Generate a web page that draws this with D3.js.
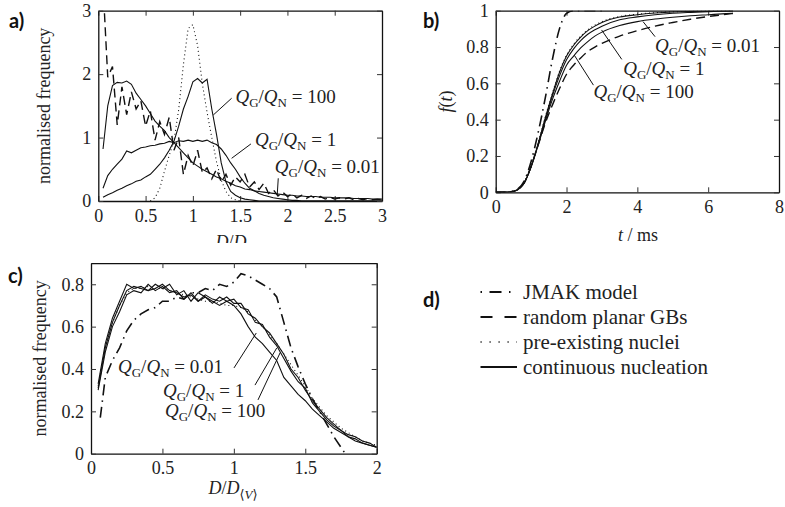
<!DOCTYPE html>
<html>
<head>
<meta charset="utf-8">
<script src="https://cdn.jsdelivr.net/npm/d3@7"></script>
<style>
  body { margin: 0; background: #fff; }
  svg { display: block; }
  text { font-family: "Liberation Serif", "DejaVu Serif", serif; }
  .tick text { font-family: "Liberation Serif", "DejaVu Serif", serif; font-size: 18px; fill: #222; }
  .lbl { font-size: 18px; fill: #222; white-space: pre; }
  .ann { font-size: 19px; fill: #222; white-space: pre; }
  .leg { font-size: 21px; fill: #222; }
  .panel { font-family: Lato, "Open Sans", sans-serif; font-size: 20px; font-weight: bold; fill: #111; }
</style>
</head>
<body>
<div id="chart"></div>
<script>
// ---- panel a: size distributions, D/D<V> grid
const aX = [0.05, 0.1, 0.15, 0.2, 0.25, 0.3, 0.35, 0.4, 0.45, 0.5, 0.55, 0.6, 0.65, 0.7, 0.75, 0.8, 0.85, 0.9, 0.95, 1.0,
  1.05, 1.1, 1.15, 1.2, 1.25, 1.3, 1.35, 1.4, 1.45, 1.5, 1.55, 1.6, 1.65, 1.7, 1.75, 1.8, 1.85, 1.9, 1.95, 2.0,
  2.05, 2.1, 2.15, 2.2, 2.25, 2.3, 2.35, 2.4, 2.45, 2.5, 2.55, 2.6, 2.65, 2.7, 2.75, 2.8, 2.85, 2.9, 2.95, 3.0]
const aRandom = [3.4, 1.95, 2.12, 1.2, 1.8, 1.36, 1.72, 1.45, 1.58, 1.18, 1.42, 0.96, 1.25, 1.05, 1.32, 0.8, 1.0, 0.42, 0.72, 0.55,
  0.8, 0.45, 0.52, 0.35, 0.5, 0.3, 0.42, 0.25, 0.38, 0.3, 0.42, 0.22, 0.3, 0.18, 0.28, 0.12, 0.18, 0.08, 0.14, 0.07,
  0.11, 0.05, 0.09, 0.04, 0.08, 0.04, 0.07, 0.03, 0.06, 0.03, 0.05, 0.03, 0.05, 0.02, 0.04, 0.02, 0.04, 0.02, 0.03, 0.02]
const aPre = [null, null, null, null, null, null, null, null, null, null, 0.0, 0.05, 0.2, 0.47, 0.72, 0.95, 1.44, 2.15, 2.72, 2.78,
  2.45, 1.85, 1.4, 1.0, 0.62, 0.33, 0.15, 0.05, 0.02, 0.0, null, null, null, null, null, null, null, null, null, null,
  null, null, null, null, null, null, null, null, null, null, null, null, null, null, null, null, null, null, null, null]
const aCont001 = [0.82, 1.5, 1.82, 1.87, 1.86, 1.89, 1.84, 1.7, 1.6, 1.5, 1.38, 1.26, 1.18, 1.11, 1.0, 0.92, 0.84, 0.76, 0.68, 0.6,
  0.55, 0.5, 0.46, 0.42, 0.38, 0.35, 0.31, 0.28, 0.24, 0.22, 0.19, 0.18, 0.16, 0.15, 0.14, 0.13, 0.12, 0.11, 0.1, 0.09,
  0.09, 0.08, 0.08, 0.07, 0.07, 0.07, 0.06, 0.06, 0.06, 0.05, 0.05, 0.05, 0.05, 0.04, 0.04, 0.04, 0.04, 0.03, 0.03, 0.03]
const aCont1 = [0.2, 0.4, 0.5, 0.58, 0.66, 0.79, 0.76, 0.8, 0.84, 0.85, 0.87, 0.88, 0.9, 0.91, 0.94, 0.92, 0.95, 0.94, 0.96, 0.94,
  0.96, 0.94, 0.96, 0.92, 0.89, 0.82, 0.72, 0.6, 0.5, 0.38, 0.28, 0.2, 0.16, 0.12, 0.09, 0.07, 0.05, 0.04, 0.03, 0.02,
  0.01, 0.01, 0.0, 0.0, 0.0, 0.0, 0.0, 0.0, 0.0, 0.0, 0.0, 0.0, 0.0, 0.0, 0.0, 0.0, 0.0, 0.0, 0.0, 0.0]
const aCont100 = [0.06, 0.1, 0.13, 0.17, 0.2, 0.24, 0.27, 0.31, 0.33, 0.38, 0.42, 0.5, 0.58, 0.68, 0.8, 0.94, 1.18, 1.45, 1.65, 1.88,
  1.93, 1.86, 1.92, 1.45, 1.05, 0.6, 0.3, 0.15, 0.09, 0.05, 0.03, 0.02, 0.01, 0.0, 0.0, 0.0, 0.0, 0.0, 0.0, 0.0,
  0.0, 0.0, 0.0, 0.0, 0.0, 0.0, 0.0, 0.0, 0.0, 0.0, 0.0, 0.0, 0.0, 0.0, 0.0, 0.0, 0.0, 0.0, 0.0, 0.0]

// ---- panel b: transformed fraction f(t), t in ms
const bT = [0, 0.2, 0.4, 0.6, 0.8, 1.0, 1.2, 1.4, 1.6, 1.8, 2.0, 2.2, 2.4, 2.6, 2.8, 3.0, 3.5, 4.0, 4.5, 5.0, 5.5, 6.0, 6.5, 6.7]
const bJmak = [0, 0, 0.003, 0.015, 0.06, 0.17, 0.33, 0.52, 0.73, 0.9, 0.985, 1.0, 1.0, 1.0, 1.0, 1.0, null, null, null, null, null, null, null, null]
const bRandom = [0, 0, 0.002, 0.012, 0.05, 0.145, 0.26, 0.38, 0.48, 0.57, 0.65, 0.7, 0.74, 0.775, 0.8, 0.82, 0.86, 0.89, 0.915, 0.935, 0.953, 0.968, 0.98, 0.985]
const bPre = [0, 0, 0.002, 0.013, 0.055, 0.145, 0.275, 0.415, 0.545, 0.665, 0.755, 0.815, 0.86, 0.895, 0.92, 0.94, 0.968, 0.981, 0.989, 0.994, 0.997, 0.999, 1.0, 1.0]
const bCont100 = [0, 0, 0.002, 0.012, 0.05, 0.14, 0.27, 0.41, 0.54, 0.66, 0.75, 0.81, 0.855, 0.89, 0.915, 0.935, 0.965, 0.978, 0.987, 0.993, 0.996, 0.998, 0.999, 1.0]
const bCont1 = [0, 0, 0.002, 0.012, 0.05, 0.14, 0.265, 0.4, 0.53, 0.64, 0.73, 0.79, 0.835, 0.87, 0.895, 0.915, 0.95, 0.966, 0.978, 0.986, 0.991, 0.995, 0.998, 0.999]
const bCont001 = [0, 0, 0.002, 0.012, 0.05, 0.14, 0.26, 0.39, 0.51, 0.61, 0.7, 0.75, 0.795, 0.83, 0.86, 0.882, 0.918, 0.94, 0.954, 0.964, 0.972, 0.978, 0.984, 0.986]

// ---- panel c: volume-weighted size distributions
const cX = [0.05, 0.1, 0.15, 0.2, 0.25, 0.3, 0.35, 0.4, 0.45, 0.5, 0.55, 0.6, 0.65, 0.7, 0.75, 0.8, 0.85, 0.9, 0.95, 1.0,
  1.05, 1.1, 1.15, 1.2, 1.25, 1.3, 1.35, 1.4, 1.45, 1.5, 1.55, 1.6, 1.65, 1.7, 1.75, 1.8, 1.85, 1.9, 1.95, 2.0]
const cPre = [0.32, 0.5, 0.62, 0.7, 0.76, 0.78, 0.78, 0.79, 0.78, 0.78, 0.77, 0.76, 0.75, 0.74, 0.73, 0.72, 0.72, 0.71, 0.7, 0.7,
  0.69, 0.67, 0.63, 0.6, 0.56, 0.52, 0.47, 0.42, 0.37, 0.32, 0.26, 0.22, 0.18, 0.15, 0.12, 0.1, 0.08, 0.06, 0.05, 0.04]
const cCont100 = [0.3, 0.48, 0.6, 0.67, 0.75, 0.77, 0.76, 0.8, 0.77, 0.79, 0.76, 0.77, 0.73, 0.76, 0.72, 0.75, 0.73, 0.72, 0.74, 0.71,
  0.71, 0.66, 0.64, 0.6, 0.57, 0.52, 0.47, 0.4, 0.36, 0.3, 0.25, 0.21, 0.17, 0.14, 0.11, 0.09, 0.08, 0.06, 0.05, 0.03]
const cCont1 = [0.31, 0.5, 0.62, 0.7, 0.77, 0.79, 0.78, 0.77, 0.8, 0.78, 0.8, 0.75, 0.77, 0.72, 0.76, 0.74, 0.71, 0.74, 0.72, 0.73,
  0.69, 0.68, 0.62, 0.61, 0.55, 0.51, 0.45, 0.39, 0.34, 0.31, 0.24, 0.2, 0.16, 0.13, 0.11, 0.08, 0.07, 0.05, 0.04, 0.03]
const cCont001 = [0.33, 0.52, 0.64, 0.72, 0.8, 0.78, 0.79, 0.77, 0.78, 0.8, 0.77, 0.76, 0.74, 0.75, 0.72, 0.74, 0.72, 0.7, 0.72, 0.7,
  0.66, 0.6, 0.55, 0.52, 0.48, 0.44, 0.36, 0.32, 0.28, 0.25, 0.21, 0.18, 0.15, 0.12, 0.1, 0.08, 0.06, 0.05, 0.04, 0.03]
const cJmakX = [0.065, 0.1, 0.15, 0.2, 0.25, 0.3, 0.35, 0.4, 0.45, 0.5, 0.55, 0.6, 0.65, 0.7, 0.75, 0.8, 0.85, 0.9, 0.95, 1.0,
  1.05, 1.1, 1.15, 1.2, 1.25, 1.3, 1.35, 1.4, 1.45, 1.5, 1.55, 1.6, 1.65, 1.7, 1.75, 1.78]
const cJmak = [0.17, 0.36, 0.44, 0.5, 0.58, 0.63, 0.66, 0.68, 0.69, 0.72, 0.72, 0.74, 0.73, 0.76, 0.76, 0.78, 0.77, 0.8, 0.79, 0.81,
  0.85, 0.84, 0.82, 0.8, 0.78, 0.74, 0.62, 0.5, 0.41, 0.33, 0.26, 0.2, 0.14, 0.08, 0.03, 0.0]

// tick values
const aXTicks = [0, 0.5, 1, 1.5, 2, 2.5, 3]
const aYTicks = [0, 1, 2, 3]
const bXTicks = [0, 2, 4, 6, 8]
const bYTicks = [0, 0.2, 0.4, 0.6, 0.8, 1]
const cXTicks = [0, 0.5, 1, 1.5, 2]
const cYTicks = [0, 0.2, 0.4, 0.6, 0.8]

const ratios = ["100", "1", "0.01"]
const legendNames = ["JMAK model", "random planar GBs", "pre-existing nuclei", "continuous nucleation"]

const serif = '"Liberation Serif", "DejaVu Serif", serif'
const styles = {
  jmak: { dash: "11,5,1.5,5", width: 1.6 },
  random: { dash: "9,5", width: 1.4 },
  pre: { dash: "1,3", width: 1.1 },
  cont: { dash: null, width: 1.1 }
}

const svg = d3.select("#chart").append("svg").attr("width", 785).attr("height", 507)
const defs = svg.append("defs")

function frame(id, x, y, xTicks, yTicks) {
  const [x0, x1] = x.range()
  const [y0, y1] = y.range()
  defs.append("clipPath").attr("id", id)
    .append("rect").attr("x", x0).attr("y", y1).attr("width", x1 - x0).attr("height", y0 - y1)
  const fmt = d3.format("~g")
  const g = svg.append("g")
  g.append("g").attr("transform", `translate(0,${y0})`)
    .call(d3.axisBottom(x).tickValues(xTicks).tickFormat(fmt).tickSizeInner(-5).tickSizeOuter(0).tickPadding(8))
  g.append("g").attr("transform", `translate(0,${y1})`)
    .call(d3.axisTop(x).tickValues(xTicks).tickFormat("").tickSizeInner(-5).tickSizeOuter(0))
  g.append("g").attr("transform", `translate(${x0},0)`)
    .call(d3.axisLeft(y).tickValues(yTicks).tickFormat(fmt).tickSizeInner(-5).tickSizeOuter(0).tickPadding(7))
  g.append("g").attr("transform", `translate(${x1},0)`)
    .call(d3.axisRight(y).tickValues(yTicks).tickFormat("").tickSizeInner(-5).tickSizeOuter(0))
  g.selectAll(".domain").attr("stroke", "#111").attr("stroke-width", 1.3)
  g.selectAll(".tick line").attr("stroke", "#333")
  g.selectAll("g").attr("font-family", serif).attr("font-size", 18)
  g.selectAll(".tick text").attr("fill", "#222").style("font-family", serif)
  return g
}

function curve(id, xs, ys, x, y, st, smooth) {
  const pts = xs.map((d, i) => [d, ys[i]])
  const line = d3.line()
    .defined(d => d[1] != null)
    .x(d => x(d[0])).y(d => y(d[1]))
  if (smooth) line.curve(d3.curveMonotoneX)
  svg.append("path")
    .attr("clip-path", `url(#${id})`)
    .attr("d", line(pts))
    .attr("fill", "none")
    .attr("stroke", "#111")
    .attr("stroke-width", st.width)
    .attr("stroke-dasharray", st.dash)
}

function ratioLabel(px, py, value) {
  const t = svg.append("text").attr("class", "ann").style("font-family", serif).attr("x", px).attr("y", py)
  t.append("tspan").attr("font-style", "italic").text("Q")
  t.append("tspan").attr("dy", 4).attr("font-size", 13).text("G")
  t.append("tspan").attr("dy", -4).text("/")
  t.append("tspan").attr("font-style", "italic").text("Q")
  t.append("tspan").attr("dy", 4).attr("font-size", 13).text("N")
  t.append("tspan").attr("dy", -4).text(" = " + value)
}

function pointer(x, y, from, to) {
  svg.append("line")
    .attr("x1", x(from[0])).attr("y1", y(from[1]))
    .attr("x2", x(to[0])).attr("y2", y(to[1]))
    .attr("stroke", "#111").attr("stroke-width", 1)
}

function dLabel(g, px, py) {
  const t = g.append("text").attr("class", "lbl").style("font-family", serif)
    .attr("x", px).attr("y", py).attr("text-anchor", "middle")
  t.append("tspan").attr("font-style", "italic").text("D")
  t.append("tspan").text("/")
  t.append("tspan").attr("font-style", "italic").text("D")
  t.append("tspan").attr("dy", 5).attr("font-size", 13).text("⟨")
  t.append("tspan").attr("font-size", 13).attr("font-style", "italic").text("V")
  t.append("tspan").attr("font-size", 13).text("⟩")
}

function yLabel(px, py) {
  return svg.append("text").attr("class", "lbl").style("font-family", serif)
    .attr("text-anchor", "middle")
    .attr("transform", `translate(${px},${py}) rotate(-90)`)
}

// ================= panel a
const ax = d3.scaleLinear().domain([0, 3]).range([98.3, 382])
const ay = d3.scaleLinear().domain([0, 3]).range([201, 10.7])
frame("clipA", ax, ay, aXTicks, aYTicks)
curve("clipA", aX, aPre, ax, ay, styles.pre)
curve("clipA", aX, aRandom, ax, ay, styles.random)
curve("clipA", aX, aCont001, ax, ay, styles.cont)
curve("clipA", aX, aCont1, ax, ay, styles.cont)
curve("clipA", aX, aCont100, ax, ay, styles.cont)

const aAnn = [
  { text: [1.45, 1.55], from: [1.41, 1.62], to: [1.216, 1.356] },
  { text: [1.656, 0.867], from: [1.614, 0.9], to: [1.41, 0.673] },
  { text: [1.867, 0.44], from: [1.903, 0.358], to: [1.892, 0.095] }
]
aAnn.forEach((a, i) => {
  ratioLabel(ax(a.text[0]), ay(a.text[1]), ratios[i])
  pointer(ax, ay, a.from, a.to)
})

yLabel(50, (ay.range()[0] + ay.range()[1]) / 2).text("normalised frequency")
defs.append("clipPath").attr("id", "clipTop").append("rect").attr("width", 785).attr("height", 243)
dLabel(svg.append("g").attr("clip-path", "url(#clipTop)"), 240, 248)
svg.append("text").attr("class", "panel").attr("x", 9).attr("y", 28).text("a)")

// ================= panel b
const bx = d3.scaleLinear().domain([0, 8]).range([495.7, 779])
const by = d3.scaleLinear().domain([0, 1]).range([192.3, 10.7])
frame("clipB", bx, by, bXTicks, bYTicks)
curve("clipB", bT, bRandom, bx, by, styles.random, true)
curve("clipB", bT, bPre, bx, by, styles.pre, true)
curve("clipB", bT, bCont001, bx, by, styles.cont, true)
curve("clipB", bT, bCont1, bx, by, styles.cont, true)
curve("clipB", bT, bCont100, bx, by, styles.cont, true)
curve("clipB", bT, bJmak, bx, by, styles.jmak, true)

const bAnn = [
  { text: [2.76, 0.518], from: [2.76, 0.59], to: [2.22, 0.755] },
  { text: [3.6, 0.646], from: [3.56, 0.732], to: [2.99, 0.894] },
  { text: [4.5, 0.774], from: [4.5, 0.857], to: [4.16, 0.94] }
]
bAnn.forEach((a, i) => {
  ratioLabel(bx(a.text[0]), by(a.text[1]), ratios[i])
  pointer(bx, by, a.from, a.to)
})

const fl = yLabel(452, (by.range()[0] + by.range()[1]) / 2)
fl.append("tspan").attr("font-style", "italic").text("f")
fl.append("tspan").text("(")
fl.append("tspan").attr("font-style", "italic").text("t")
fl.append("tspan").text(")")
const tl = svg.append("text").attr("class", "lbl").style("font-family", serif)
  .attr("text-anchor", "middle").attr("x", 638).attr("y", 241)
tl.append("tspan").attr("font-style", "italic").text("t")
tl.append("tspan").text(" / ms")
svg.append("text").attr("class", "panel").attr("x", 423).attr("y", 28).text("b)")

// ================= panel c
const cx = d3.scaleLinear().domain([0, 2]).range([91, 376.7])
const cy = d3.scaleLinear().domain([0, 0.9]).range([453.7, 263.1])
frame("clipC", cx, cy, cXTicks, cYTicks)
curve("clipC", cX, cPre, cx, cy, styles.pre)
curve("clipC", cJmakX, cJmak, cx, cy, styles.jmak)
curve("clipC", cX, cCont001, cx, cy, styles.cont)
curve("clipC", cX, cCont1, cx, cy, styles.cont)
curve("clipC", cX, cCont100, cx, cy, styles.cont)

const cAnn = [
  { text: [0.518, 0.175], from: [1.169, 0.254], to: [1.325, 0.478] },
  { text: [0.504, 0.269], from: [1.148, 0.324], to: [1.3, 0.499] },
  { text: [0.189, 0.38], from: [1.001, 0.405], to: [1.157, 0.57] }
]
cAnn.forEach((a, i) => {
  ratioLabel(cx(a.text[0]), cy(a.text[1]), ratios[i])
  pointer(cx, cy, a.from, a.to)
})

yLabel(46, (cy.range()[0] + cy.range()[1]) / 2).text("normalised frequency")
dLabel(svg, 233, 494)
svg.append("text").attr("class", "panel").attr("x", 8).attr("y", 283).text("c)")

// ================= panel d: legend
svg.append("text").attr("class", "panel").attr("x", 423).attr("y", 307).text("d)")
const legStyles = [
  { dash: "1.5,7.5,12,7.5,1.5,20", width: 2 },
  { dash: "12,12", width: 2 },
  { dash: "1.2,7.8", width: 1.3 },
  { dash: null, width: 2 }
]
const legY = d3.scalePoint().domain(legendNames).range([292, 367])
const leg = svg.append("g")
leg.selectAll("line").data(legendNames).enter().append("line")
  .attr("x1", 480.5).attr("x2", 517)
  .attr("y1", d => legY(d)).attr("y2", d => legY(d))
  .attr("stroke", "#111")
  .attr("stroke-width", (d, i) => legStyles[i].width)
  .attr("stroke-dasharray", (d, i) => legStyles[i].dash)
leg.selectAll("text").data(legendNames).enter().append("text")
  .attr("class", "leg")
  .style("font-family", serif)
  .attr("x", 523).attr("y", d => legY(d) + 7)
  .text(d => d)
</script>
</body>
</html>
